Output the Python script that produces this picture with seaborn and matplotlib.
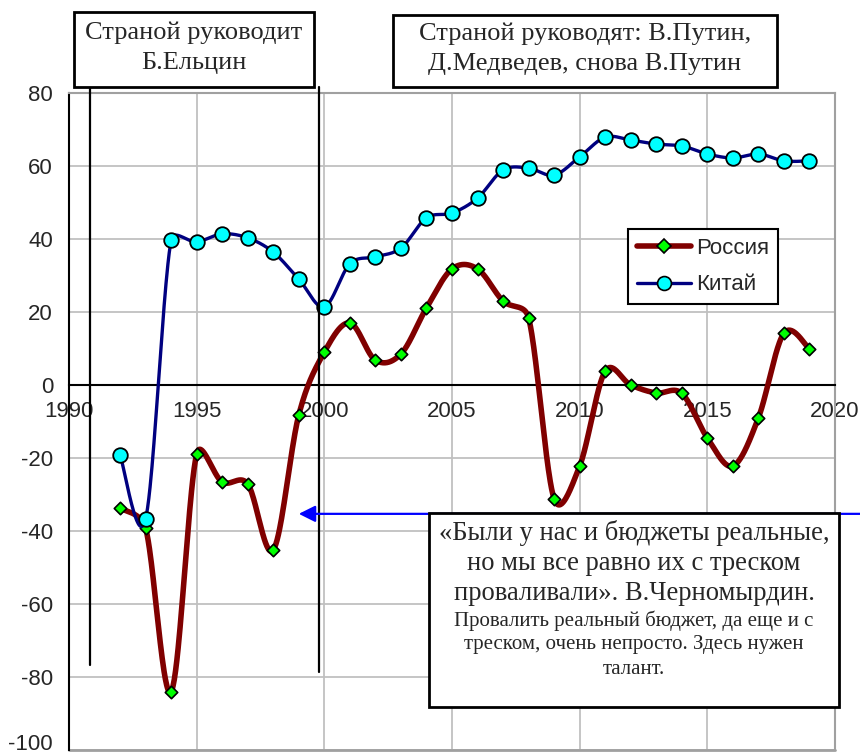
import numpy as np
import matplotlib
matplotlib.use("Agg")
import matplotlib.pyplot as plt
from matplotlib.lines import Line2D
from matplotlib.patches import Rectangle
from matplotlib.transforms import ScaledTranslation
import seaborn as sns

# ---- data -------------------------------------------------------------
years = list(range(1992, 2020))
russia = [-33.7, -39.2, -84.0, -18.9, -26.6, -27.1, -45.2, -8.2, 9.0, 17.0,
          6.8, 8.5, 21.1, 31.8, 31.8, 23.0, 18.4, -31.2, -22.2, 3.8,
          0.0, -2.2, -2.3, -14.5, -22.2, -9.0, 14.2, 9.9]
china = [-19.2, -36.7, 39.7, 39.2, 41.4, 40.3, 36.4, 29.0, 21.4, 33.2,
         35.1, 37.5, 45.8, 47.1, 51.2, 58.9, 59.4, 57.5, 62.5, 67.9,
         67.1, 66.0, 65.5, 63.3, 62.2, 63.3, 61.4, 61.4]
series_names = ["Россия", "Китай"]
x_ticks = list(range(1990, 2021, 5))
y_ticks = list(range(-100, 81, 20))

box_left_text = "Страной руководит\nБ.Ельцин"
box_right_text = "Страной руководят: В.Путин,\nД.Медведев, снова В.Путин"
quote_lines = ["«Были у нас и бюджеты реальные,",
               "но мы все равно их с треском",
               "проваливали». В.Черномырдин."]
note_lines = ["Провалить реальный бюджет, да еще и с",
              "треском, очень непросто. Здесь нужен",
              "талант."]

W, H = 860, 756
X_RANGE = (1990, 2020)
Y_RANGE = (-100, 80)
AX_PX = (69, 93, 835, 750)          # left, top, right, bottom in pixels
SX = (AX_PX[2] - AX_PX[0]) / (X_RANGE[1] - X_RANGE[0])   # px per year
SY = (AX_PX[3] - AX_PX[1]) / (Y_RANGE[1] - Y_RANGE[0])   # px per unit


def smooth_curve(xs, ys, n=40):
    """Smoothed line through every point: cubic Bezier segments whose
    control arms follow the neighbour chord (1/6) and never exceed half
    of the segment they belong to (measured on screen)."""
    P = np.column_stack([np.asarray(xs, float) * SX, np.asarray(ys, float) * SY])
    ext = np.vstack([P[0], P, P[-1]])
    tang = (ext[2:] - ext[:-2]) / 6.0
    t = np.linspace(0, 1, n, endpoint=False)[:, None]
    pieces = []
    for i in range(len(P) - 1):
        p0, p3 = P[i], P[i + 1]
        seg = np.hypot(*(p3 - p0))
        a1, a2 = tang[i].copy(), tang[i + 1].copy()
        for a in (a1, a2):
            ln = np.hypot(*a)
            if ln > seg / 2 and ln > 0:
                a *= (seg / 2) / ln
        c1, c2 = p0 + a1, p3 - a2
        pieces.append((1 - t) ** 3 * p0 + 3 * (1 - t) ** 2 * t * c1
                      + 3 * (1 - t) * t ** 2 * c2 + t ** 3 * p3)
    pieces.append(P[-1:])
    out = np.vstack(pieces)
    return out[:, 0] / SX, out[:, 1] / SY


def fx(px):
    return px / W


def fy(py):
    return 1 - py / H


# ---- figure -----------------------------------------------------------
sns.set_style("white")
plt.rcParams["font.family"] = ["Liberation Sans", "DejaVu Sans"]
plt.rcParams["axes.unicode_minus"] = False

fig = plt.figure(figsize=(W / 100, H / 100), dpi=100)
ax = fig.add_axes([fx(AX_PX[0]), fy(AX_PX[3]),
                   fx(AX_PX[2]) - fx(AX_PX[0]), fy(AX_PX[1]) - fy(AX_PX[3])])

ax.set_xlim(*X_RANGE)
ax.set_ylim(*Y_RANGE)
ax.set_xticks(x_ticks)
ax.set_yticks(y_ticks)
ax.grid(True, color="#c0c0c0", lw=1.3, zorder=0)
ax.set_axisbelow(True)

# spines: y axis black, x axis crosses at zero, frame grey
ax.spines["left"].set_color("black")
ax.spines["left"].set_linewidth(1.5)
ax.spines["bottom"].set_position(("data", 0))
ax.spines["bottom"].set_color("black")
ax.spines["bottom"].set_linewidth(1.5)
for s in ("top", "right"):
    ax.spines[s].set_color("#a0a0a0")
    ax.spines[s].set_linewidth(1.5)
    ax.spines[s].set_visible(True)
ax.axhline(-100, color="#a0a0a0", lw=2.0, zorder=1, clip_on=False)

ax.tick_params(axis="both", which="major", direction="out", length=4.5,
               width=1.2, color="black", labelsize=16)
ax.tick_params(axis="x", pad=7)
ax.tick_params(axis="y", pad=7)
ax.set_xlabel("")
ax.set_ylabel("")

# ---- series -----------------------------------------------------------
ru_col, ru_mark = "#800000", "#00ff00"
cn_col, cn_mark = "#000080", "#00ffff"

ru_x, ru_y = smooth_curve(years, russia)
cn_x, cn_y = smooth_curve(years, china)

sns.lineplot(x=ru_x, y=ru_y, sort=False, estimator=None,
             color=ru_col, lw=4.0, ax=ax, zorder=3)
sns.scatterplot(x=years, y=russia, marker="D", s=40, color=ru_mark,
                edgecolor="black", linewidth=1.2, ax=ax, zorder=4)
sns.lineplot(x=cn_x, y=cn_y, sort=False, estimator=None,
             color=cn_col, lw=2.4, ax=ax, zorder=5)
sns.scatterplot(x=years, y=china, marker="o", s=110, color=cn_mark,
                edgecolor="black", linewidth=1.3, ax=ax, zorder=6)

handles = [
    Line2D([], [], color=ru_col, lw=4.0, marker="D", markersize=7,
           markerfacecolor=ru_mark, markeredgecolor="black", markeredgewidth=1.2),
    Line2D([], [], color=cn_col, lw=2.4, marker="o", markersize=10,
           markerfacecolor=cn_mark, markeredgecolor="black", markeredgewidth=1.2),
]
leg = ax.legend(handles, series_names, loc="upper left",
                bbox_to_anchor=(fx(628), fy(229)), bbox_transform=fig.transFigure,
                borderaxespad=0, frameon=True, fancybox=False, framealpha=1,
                edgecolor="black", fontsize=16, handlelength=2.45,
                handletextpad=0.2, labelspacing=0.7, borderpad=0.4)
leg.get_frame().set_linewidth(1.5)
leg.set_zorder(10)

# keep the lowest y label inside the canvas
for lbl in ax.get_yticklabels():
    if lbl.get_text() in ("-100", "\u2212100"):
        lbl.set_transform(lbl.get_transform()
                          + ScaledTranslation(0, 6 / 72, fig.dpi_scale_trans))

# ---- period separators and pointer ------------------------------------
ax.plot([1990.83, 1990.83], [-76.7, 81.6], color="black", lw=1.6,
        clip_on=False, zorder=7)
ax.plot([1999.79, 1999.79], [-78.6, 81.6], color="black", lw=1.6,
        clip_on=False, zorder=7)
ax.annotate("", xy=(1999.0, -35.3), xytext=(2021.5, -35.3),
            arrowprops=dict(arrowstyle="-|>,head_length=0.5,head_width=0.25",
                            color="#0000ff", lw=1.6, mutation_scale=20,
                            shrinkA=0, shrinkB=0),
            annotation_clip=False, zorder=8)

# ---- text boxes -------------------------------------------------------
def add_box(x0, y0, x1, y1):
    fig.patches.append(Rectangle((fx(x0), fy(y1)), fx(x1) - fx(x0), fy(y0) - fy(y1),
                                 transform=fig.transFigure, facecolor="white",
                                 edgecolor="black", lw=2.0, zorder=20))


serif = ["Liberation Serif", "DejaVu Serif"]

add_box(74, 12, 314, 87)
for txt, py in zip(box_left_text.split("\n"), (33, 63)):
    fig.text(fx(194), fy(py), txt, ha="center", va="center", family=serif,
             fontsize=19, zorder=21)

add_box(393, 15, 777, 87)
for txt, py in zip(box_right_text.split("\n"), (34, 64)):
    fig.text(fx(585), fy(py), txt, ha="center", va="center", family=serif,
             fontsize=19, zorder=21)

add_box(429, 513, 839, 707)
for txt, py in zip(quote_lines, (533, 563, 593)):
    fig.text(fx(634), fy(py), txt, ha="center", va="center", family=serif,
             fontsize=19.2, zorder=21)
for txt, py in zip(note_lines, (621, 645, 669)):
    fig.text(fx(634), fy(py), txt, ha="center", va="center", family=serif,
             fontsize=15, zorder=21)

fig.savefig("out.png", dpi=100)
